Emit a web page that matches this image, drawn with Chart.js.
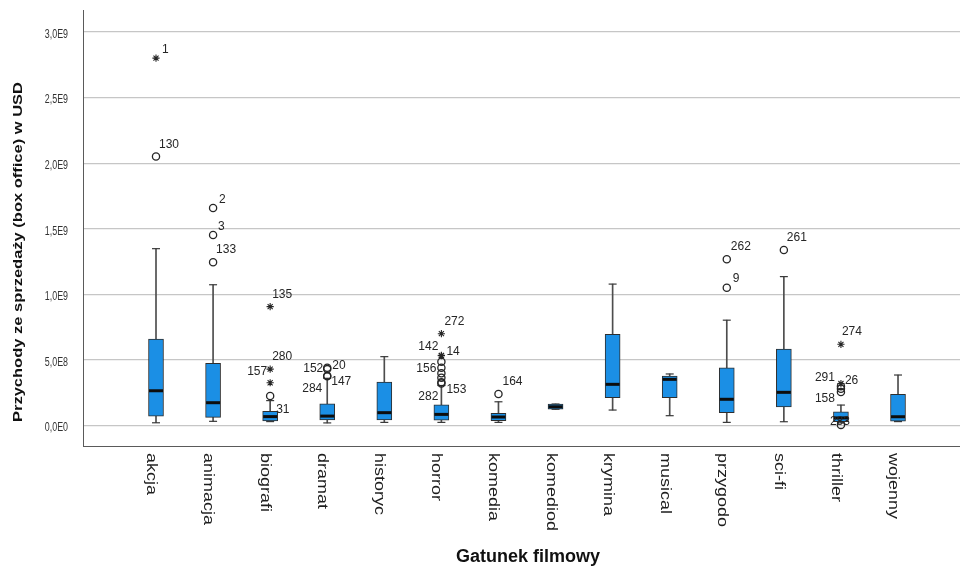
<!DOCTYPE html>
<html>
<head>
<meta charset="utf-8">
<script src="https://cdn.jsdelivr.net/npm/chart.js@4.4.1/dist/chart.umd.min.js"></script>
<style>
  html, body { margin: 0; padding: 0; background: #ffffff; }
  #wrap { width: 960px; height: 571px; position: relative; }
</style>
</head>
<body>
<div id="wrap"><canvas id="c" width="960" height="571"></canvas></div>
<script>
// Box office revenue (USD) by film genre: five-number summaries per genre
const genres = ['akcja', 'animacja', 'biografi', 'dramat', 'historyc', 'horror', 'komedia',
  'komediod', 'krymina', 'musical', 'przygodo', 'sci-fi', 'thriller', 'wojenny'];

const whiskerLow  = [0.021e9, 0.032e9, 0.030e9, 0.020e9, 0.024e9, 0.024e9, 0.024e9, 0.124e9, 0.118e9, 0.075e9, 0.024e9, 0.029e9, 0.020e9, 0.030e9];
const quartile1   = [0.072e9, 0.062e9, 0.036e9, 0.042e9, 0.042e9, 0.040e9, 0.037e9, 0.124e9, 0.212e9, 0.212e9, 0.098e9, 0.141e9, 0.030e9, 0.034e9];
const medianValue = [0.265e9, 0.174e9, 0.068e9, 0.072e9, 0.098e9, 0.085e9, 0.065e9, 0.143e9, 0.314e9, 0.352e9, 0.200e9, 0.253e9, 0.058e9, 0.067e9];
const quartile3   = [0.659e9, 0.474e9, 0.108e9, 0.165e9, 0.332e9, 0.157e9, 0.093e9, 0.164e9, 0.695e9, 0.377e9, 0.440e9, 0.583e9, 0.105e9, 0.238e9];
const whiskerHigh = [1.348e9, 1.073e9, 0.190e9, 0.360e9, 0.525e9, 0.305e9, 0.181e9, 0.164e9, 1.078e9, 0.393e9, 0.803e9, 1.135e9, 0.156e9, 0.385e9];

// Outlying cases: genre index, value, case number, kind ('o' outlier, '*' extreme)
const outlierGenre = [0, 0, 1, 1, 1, 2, 2, 2, 2, 3, 3, 3, 3, 5, 5, 5, 5, 5, 5, 5, 5, 5, 6, 10, 10, 11, 12, 12, 12, 12, 12, 12];
const outlierValue = [2.80e9, 2.05e9, 1.658e9, 1.452e9, 1.244e9, 0.906e9, 0.430e9, 0.326e9, 0.225e9,
  0.440e9, 0.430e9, 0.380e9, 0.375e9,
  0.700e9, 0.535e9, 0.532e9, 0.486e9, 0.440e9, 0.398e9, 0.364e9, 0.329e9, 0.320e9,
  0.240e9, 1.267e9, 1.050e9, 1.338e9,
  0.619e9, 0.320e9, 0.300e9, 0.280e9, 0.255e9, 0.005e9];
const outlierCase = ['1', '130', '2', '3', '133', '135', '280', '157', '31',
  '152', '20', '147', '284',
  '272', '14', '142', '', '156', '', '', '153', '282',
  '164', '262', '9', '261',
  '274', '26', '291', '', '158', '283'];
const outlierKind = ['*', 'o', 'o', 'o', 'o', '*', '*', '*', 'o',
  'o', 'o', 'o', 'o',
  '*', '*', '*', 'o', 'o', 'o', 'o', 'o', 'o',
  'o', 'o', 'o', 'o',
  '*', '*', 'o', 'o', 'o', 'o'];

const yTickValues = [0, 0.5e9, 1.0e9, 1.5e9, 2.0e9, 2.5e9, 3.0e9];
const yTitle = 'Przychody ze sprzedaży (box office) w USD';
const xTitle = 'Gatunek filmowy';

// Where each case number sits relative to its marker: [dx, dy(baseline), align]
const caseLabelOffset = {
  '1': [6, -5], '130': [3, -8.5], '2': [6, -5], '3': [5, -5], '133': [3, -9.5],
  '135': [2, -8.6], '280': [2, -9], '157': [-3, -8, 'right'], '31': [6, 17],
  '152': [-4, 4, 'right'], '20': [5, 0], '147': [4, 9], '284': [-5, 16, 'right'],
  '272': [3, -9], '14': [5, 0], '142': [-3, -6, 'right'], '156': [-5, 4, 'right'],
  '153': [5, 11], '282': [-3, 16.5, 'right'],
  '164': [4, -9], '262': [4, -9], '9': [6, -6], '261': [3, -9],
  '274': [1, -9], '26': [4, 0], '291': [-6, -5, 'right'], '158': [-6, 10, 'right'], '283': [-11, 0]
};

const idx = genres.map((g, i) => i);
const circleIdx = outlierKind.map((k, j) => j).filter(j => outlierKind[j] === 'o');
const starIdx = outlierKind.map((k, j) => j).filter(j => outlierKind[j] === '*');

const ink = '#262626';

function sciLabel(v) {
  if (v === 0) return '0,0E0';
  const e = Math.floor(Math.log10(v) + 1e-9);
  return (v / Math.pow(10, e)).toFixed(1).replace('.', ',') + 'E' + e;
}

const annotate = {
  id: 'annotate',
  afterDraw(chart) {
    const { ctx, chartArea } = chart;
    const xs = chart.scales.x;
    const ys = chart.scales.y;
    ctx.save();

    // value axis labels, set in a narrow face
    ctx.font = '12px "Liberation Sans", Arial, sans-serif';
    ctx.fillStyle = '#333333';
    ctx.textAlign = 'right';
    ctx.textBaseline = 'middle';
    yTickValues.forEach(v => {
      ctx.save();
      ctx.translate(chartArea.left - 15, ys.getPixelForValue(v) + 2.5);
      ctx.scale(0.74, 1);
      ctx.fillText(sciLabel(v), 0, 0);
      ctx.restore();
    });

    // case numbers next to outlying markers
    ctx.font = '12px "Liberation Sans", Arial, sans-serif';
    ctx.fillStyle = ink;
    ctx.textBaseline = 'alphabetic';
    [[4, circleIdx], [5, starIdx]].forEach(([ds, list]) => {
      const meta = chart.getDatasetMeta(ds);
      list.forEach((j, k) => {
        const label = outlierCase[j];
        if (!label) return;
        const el = meta.data[k];
        const off = caseLabelOffset[label] || [4, -8];
        ctx.textAlign = off[2] || 'left';
        ctx.fillText(label, el.x + off[0], el.y + off[1]);
      });
    });

    // genre names, reading downward under each box
    ctx.font = '18px "Liberation Sans", Arial, sans-serif';
    ctx.fillStyle = '#1e1e1e';
    ctx.textAlign = 'left';
    idx.forEach(i => {
      const px = xs.getPixelForValue(i);
      ctx.save();
      ctx.translate(px - 9, chartArea.bottom + 7);
      ctx.rotate(Math.PI / 2);
      ctx.scale(1, 0.78);
      ctx.fillText(genres[i], 0, 0);
      ctx.restore();
    });

    // axis titles
    ctx.fillStyle = '#111';
    ctx.font = 'bold 18px "Liberation Sans", Arial, sans-serif';
    ctx.textAlign = 'center';
    ctx.fillText(xTitle, 528, 562);

    ctx.save();
    ctx.font = 'bold 17px "Liberation Sans", Arial, sans-serif';
    ctx.textAlign = 'left';
    const titleLen = ctx.measureText(yTitle).width;
    ctx.translate(22, 422);
    ctx.rotate(-Math.PI / 2);
    ctx.scale(340 / titleLen, 0.8);
    ctx.fillText(yTitle, 0, 0);
    ctx.restore();

    ctx.restore();
  }
};

new Chart(document.getElementById('c'), {
  type: 'bar',
  data: {
    datasets: [
      { // whisker stems
        type: 'bar', order: 5, grouped: false,
        data: idx.map(i => ({ x: i, y: [whiskerLow[i], whiskerHigh[i]] })),
        backgroundColor: '#4d4d4d', borderWidth: 0, barThickness: 1
      },
      { // whisker caps
        type: 'scatter', order: 4,
        data: idx.flatMap(i => [{ x: i, y: whiskerLow[i] }, { x: i, y: whiskerHigh[i] }]),
        pointStyle: 'line', pointRadius: 4, pointBorderColor: '#3a3a3a', pointBorderWidth: 1.2
      },
      { // interquartile boxes
        type: 'bar', order: 3, grouped: false,
        data: idx.map(i => ({ x: i, y: [quartile1[i], quartile3[i]] })),
        backgroundColor: '#1b8fe5', borderColor: '#2e2e2e', borderWidth: 1,
        borderSkipped: false, barThickness: 15
      },
      { // medians
        type: 'scatter', order: 2,
        data: idx.map(i => ({ x: i, y: medianValue[i] })),
        pointStyle: 'line', pointRadius: 7, pointBorderColor: '#0d0d0d', pointBorderWidth: 3
      },
      { // outliers
        type: 'scatter', order: 1,
        data: circleIdx.map(j => ({ x: outlierGenre[j], y: outlierValue[j] })),
        pointStyle: 'circle', pointRadius: 3.6, pointBackgroundColor: 'rgba(255,255,255,0)',
        pointBorderColor: ink, pointBorderWidth: 1.3
      },
      { // extremes
        type: 'scatter', order: 0,
        data: starIdx.map(j => ({ x: outlierGenre[j], y: outlierValue[j] })),
        pointStyle: 'star', pointRadius: 3.6, pointBorderColor: ink, pointBorderWidth: 1.1
      }
    ]
  },
  options: {
    responsive: false,
    animation: false,
    events: [],
    layout: { autoPadding: false, padding: { top: 10, left: 0, right: 0, bottom: 0 } },
    plugins: { legend: { display: false }, tooltip: { enabled: false } },
    scales: {
      x: {
        type: 'linear',
        offset: false,
        min: -1.279, max: 14.086,
        grid: { display: false },
        border: { display: true, color: '#5a5a5a', width: 1 },
        ticks: { display: false },
        afterBuildTicks: s => { s.ticks = idx.map(i => ({ value: i })); },
        afterFit: s => { s.height = 125; s.paddingLeft = 0; s.paddingRight = 0; }
      },
      y: {
        min: -0.156e9, max: 3.167e9,
        grid: { color: '#c6c6c6', lineWidth: 1.2, drawTicks: false },
        border: { display: true, color: '#5a5a5a', width: 1 },
        ticks: { display: false },
        afterBuildTicks: s => { s.ticks = yTickValues.map(v => ({ value: v })); },
        afterFit: s => { s.width = 83; s.paddingTop = 0; s.paddingBottom = 0; }
      }
    }
  },
  plugins: [annotate]
});
</script>
</body>
</html>
